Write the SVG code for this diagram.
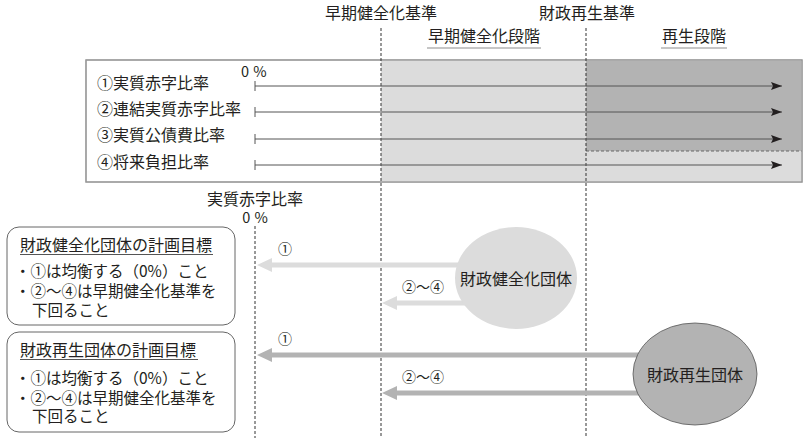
<svg xmlns="http://www.w3.org/2000/svg" width="809" height="445" viewBox="0 0 809 445">
<style>
text{font-family:"Noto Sans CJK JP","Noto Sans",sans-serif;fill:#231f20;}
.t16{font-size:16px;}
.t155{font-size:15.5px;}
.t14{font-size:14px;}
.pct{font-size:14.5px;word-spacing:1px;}
.dash{stroke:#333;stroke-width:1;stroke-dasharray:3 2;fill:none;}
.row{stroke:#555;stroke-width:1;fill:none;}
.ul{stroke:#b3b3b3;stroke-width:1.5;}
.ulb{stroke:#555;stroke-width:1;}
.box{fill:#fff;stroke:#666;stroke-width:1;}
.light{fill:#dcdcdc;}
.dark{fill:#b3b3b3;}
</style>
<defs>
<marker id="ah" markerWidth="11" markerHeight="8" refX="11" refY="4" orient="auto" markerUnits="userSpaceOnUse">
<path d="M0,0 L11,4 L0,8 L2,4 Z" fill="#231f20"/>
</marker>
</defs>

<g id="stage-panel">
<rect x="86" y="60" width="716" height="122" fill="#fff" stroke="#999" stroke-width="1.2"/>
<rect x="381" y="60.6" width="420.4" height="120.8" class="light"/>
<rect x="586" y="60.6" width="215.4" height="90.4" class="dark"/>
<line x1="586" y1="151" x2="802" y2="151" stroke="#666" stroke-width="1" stroke-dasharray="3 2"/>
<rect x="86" y="60" width="716" height="122" fill="none" stroke="#999" stroke-width="1.2"/>
</g>

<g id="headers">
<text class="t16" x="381" y="19" text-anchor="middle">早期健全化基準</text>
<text class="t16" x="587" y="19" text-anchor="middle">財政再生基準</text>
<text class="t16" x="484" y="42" text-anchor="middle">早期健全化段階</text>
<line class="ul" x1="427" y1="48" x2="541" y2="48"/>
<text class="t16" x="694" y="42" text-anchor="middle">再生段階</text>
<line class="ul" x1="661" y1="48" x2="727" y2="48"/>
</g>

<g id="guides">
<line class="dash" x1="381" y1="28" x2="381" y2="438"/>
<line class="dash" x1="586" y1="28" x2="586" y2="438"/>
<line class="dash" x1="255" y1="226" x2="255" y2="438"/>
</g>

<g id="ratios">
<text class="pct" x="241" y="77">0 %</text>
<text class="t16" x="97" y="89">①実質赤字比率</text>
<text class="t16" x="97" y="115">②連結実質赤字比率</text>
<text class="t16" x="97" y="141">③実質公債費比率</text>
<text class="t16" x="97" y="168">④将来負担比率</text>
<line class="row" x1="255" y1="81" x2="255" y2="91"/>
<line class="row" x1="255" y1="107" x2="255" y2="117"/>
<line class="row" x1="255" y1="134" x2="255" y2="144"/>
<line class="row" x1="255" y1="160" x2="255" y2="170"/>
<line class="row" x1="255" y1="86" x2="782" y2="86" marker-end="url(#ah)"/>
<line class="row" x1="255" y1="112" x2="782" y2="112" marker-end="url(#ah)"/>
<line class="row" x1="255" y1="139" x2="782" y2="139" marker-end="url(#ah)"/>
<line class="row" x1="255" y1="165" x2="782" y2="165" marker-end="url(#ah)"/>
</g>

<g id="zero-label">
<text class="t16" x="255" y="205" text-anchor="middle">実質赤字比率</text>
<text class="pct" x="255" y="223" text-anchor="middle">0 %</text>
</g>

<g id="connectors">
<path class="light" d="M257,265 L272,258 L272,262.5 L470,262.5 L470,267.5 L272,267.5 L272,272 Z"/>
<path class="light" d="M382,303 L397,296 L397,300.5 L470,300.5 L470,305.5 L397,305.5 L397,310 Z"/>
<path class="dark" d="M257,355 L272,348 L272,352.5 L645,352.5 L645,357.5 L272,357.5 L272,362 Z"/>
<path class="dark" d="M382,393 L397,386 L397,390.5 L645,390.5 L645,395.5 L397,395.5 L397,400 Z"/>
<text class="t14" x="285" y="254" text-anchor="middle">①</text>
<text class="t14" x="402" y="292">②〜④</text>
<text class="t14" x="285" y="344" text-anchor="middle">①</text>
<text class="t14" x="402" y="382">②〜④</text>
</g>

<g id="node-kenzenka">
<ellipse cx="516" cy="278" rx="61" ry="51" class="light"/>
<text class="t16" x="516" y="285" text-anchor="middle">財政健全化団体</text>
</g>

<g id="node-saisei">
<ellipse cx="695" cy="374" rx="62" ry="51" class="dark" stroke="#555" stroke-width="0.8"/>
<text class="t16" x="695" y="381" text-anchor="middle">財政再生団体</text>
</g>

<g id="box-kenzenka">
<rect class="box" x="7" y="227" width="228" height="98" rx="12"/>
<text class="t16" x="20" y="251">財政健全化団体の計画目標</text>
<line class="ulb" x1="20" y1="254.5" x2="213" y2="254.5"/>
<text class="t155" x="15" y="277">・①は均衡する（0%）こと</text>
<text class="t155" x="15" y="297">・②〜④は早期健全化基準を</text>
<text class="t155" x="32" y="316">下回ること</text>
</g>

<g id="box-saisei">
<rect class="box" x="7" y="332" width="228" height="100" rx="12"/>
<text class="t16" x="20" y="356">財政再生団体の計画目標</text>
<line class="ulb" x1="20" y1="359.5" x2="198" y2="359.5"/>
<text class="t155" x="15" y="384">・①は均衡する（0%）こと</text>
<text class="t155" x="15" y="404">・②〜④は早期健全化基準を</text>
<text class="t155" x="32" y="422">下回ること</text>
</g>
</svg>
